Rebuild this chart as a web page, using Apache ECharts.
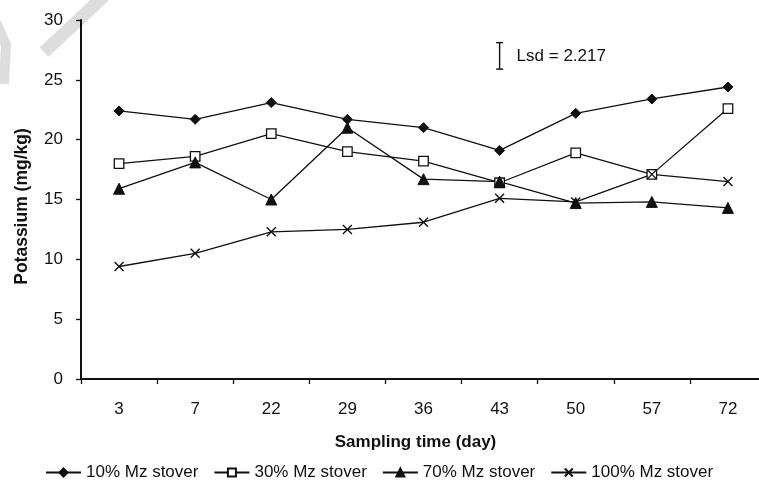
<!DOCTYPE html>
<html>
<head>
<meta charset="utf-8">
<script src="https://cdn.jsdelivr.net/npm/echarts@6/dist/echarts.min.js"></script>
<style>
html,body{margin:0;padding:0;background:#fff;overflow:hidden;width:759px;height:487px;}
#chart{width:766px;height:487px;}
</style>
</head>
<body>
<div id="chart"></div>
<script>
const categories = ['3','7','22','29','36','43','50','57','72'];
const s10 = [22.4, 21.7, 23.1, 21.7, 21.0, 19.1, 22.2, 23.4, 24.4];
const s30 = [18.0, 18.6, 20.5, 19.0, 18.2, 16.4, 18.9, 17.1, 22.6];
const s70 = [15.9, 18.1, 15.0, 21.0, 16.7, 16.5, 14.7, 14.8, 14.3];
const s100 = [9.4, 10.5, 12.3, 12.5, 13.1, 15.1, 14.8, 17.1, 16.5];
const seriesNames = ['10% Mz stover','30% Mz stover','70% Mz stover','100% Mz stover'];
const yTicks = [0, 5, 10, 15, 20, 25, 30];
const lsdValue = 2.217;
const lsdCategory = 5;   // positioned above day 43
const lsdCenter = 27.0;

const FONT = "'Liberation Sans', Arial, Helvetica, sans-serif";
const crossPath = 'path://M0,0L10,10M10,0L0,10';

const chart = echarts.init(document.getElementById('chart'), null, {renderer:'canvas'});
const lineStyle = {color:'#111', width:1.3};

function mk(name, data, symbol, size, itemStyle){
  return {
    name, type:'line', data, symbol, symbolSize:size,
    lineStyle, itemStyle, showAllSymbol:true, z:3
  };
}

chart.setOption({
  animation:false,
  backgroundColor:'#fff',
  textStyle:{fontFamily:FONT, color:'#111'},
  graphic:[
    {type:'polyline', silent:true, z:-10, shape:{points:[[44,52],[70,28],[104,-4]]},
      style:{stroke:'#dddddd', lineWidth:13, fill:null}},
    {type:'polyline', silent:true, z:-10, shape:{points:[[-4,22],[6,45],[4,84]]},
      style:{stroke:'#dddddd', lineWidth:10, fill:null}}
  ],
  grid:{left:81, top:20, right:0, bottom:108, containLabel:false},
  xAxis:{
    type:'category', data:categories, boundaryGap:true,
    name:'Sampling time (day)', nameLocation:'middle', nameGap:55,
    nameTextStyle:{fontFamily:FONT, fontWeight:'bold', fontSize:17, color:'#111', padding:[0,0,0,-16]},
    axisLine:{lineStyle:{color:'#111', width:2}},
    axisTick:{show:true, length:5, alignWithLabel:false, lineStyle:{color:'#111', width:1.3}},
    axisLabel:{fontFamily:FONT, fontSize:17, color:'#111', margin:22}
  },
  yAxis:{
    type:'value', min:yTicks[0], max:yTicks[yTicks.length-1], interval:5,
    name:'Potassium (mg/kg)', nameLocation:'middle', nameGap:50,
    nameTextStyle:{fontFamily:FONT, fontWeight:'bold', fontSize:17.5, color:'#111', padding:[0,14,0,0]},
    axisLine:{show:true, lineStyle:{color:'#111', width:2}},
    axisTick:{show:true, length:5, lineStyle:{color:'#111', width:1.3}},
    axisLabel:{fontFamily:FONT, fontSize:17, color:'#111', margin:18},
    splitLine:{show:false}
  },
  legend:{
    left:40, bottom:1, itemGap:15, itemWidth:35, itemHeight:10,
    textStyle:{fontFamily:FONT, fontSize:17, color:'#111'},
    data:seriesNames
  },
  series:[
    mk(seriesNames[0], s10, 'diamond', 10, {color:'#111', borderColor:'#111', borderWidth:1}),
    mk(seriesNames[1], s30, 'rect', 9.5, {color:'#fff', borderColor:'#111', borderWidth:1.3}),
    mk(seriesNames[2], s70, 'triangle', 11, {color:'#111', borderColor:'#111', borderWidth:1}),
    mk(seriesNames[3], s100, crossPath, 9, {color:'none', borderColor:'#111', borderWidth:1.4}),
    {
      type:'custom', name:'lsd', silent:true, z:5,
      data:[[lsdCategory, lsdCenter, lsdValue]],
      renderItem:function(params, api){
        const x = api.value(0), c = api.value(1), v = api.value(2);
        const top = api.coord([x, c + v/2]);
        const bot = api.coord([x, c - v/2]);
        const mid = api.coord([x, c]);
        const w = 3.5;
        const st = {stroke:'#111', lineWidth:1.4};
        return {type:'group', children:[
          {type:'line', shape:{x1:top[0], y1:top[1], x2:bot[0], y2:bot[1]}, style:st},
          {type:'line', shape:{x1:top[0]-w, y1:top[1], x2:top[0]+w, y2:top[1]}, style:st},
          {type:'line', shape:{x1:bot[0]-w, y1:bot[1], x2:bot[0]+w, y2:bot[1]}, style:st},
          {type:'text', style:{x:mid[0]+17, y:mid[1], text:'Lsd = ' + v, fill:'#111',
            font:'17px ' + FONT, verticalAlign:'middle', align:'left'}}
        ]};
      }
    }
  ]
});
</script>
</body>
</html>
